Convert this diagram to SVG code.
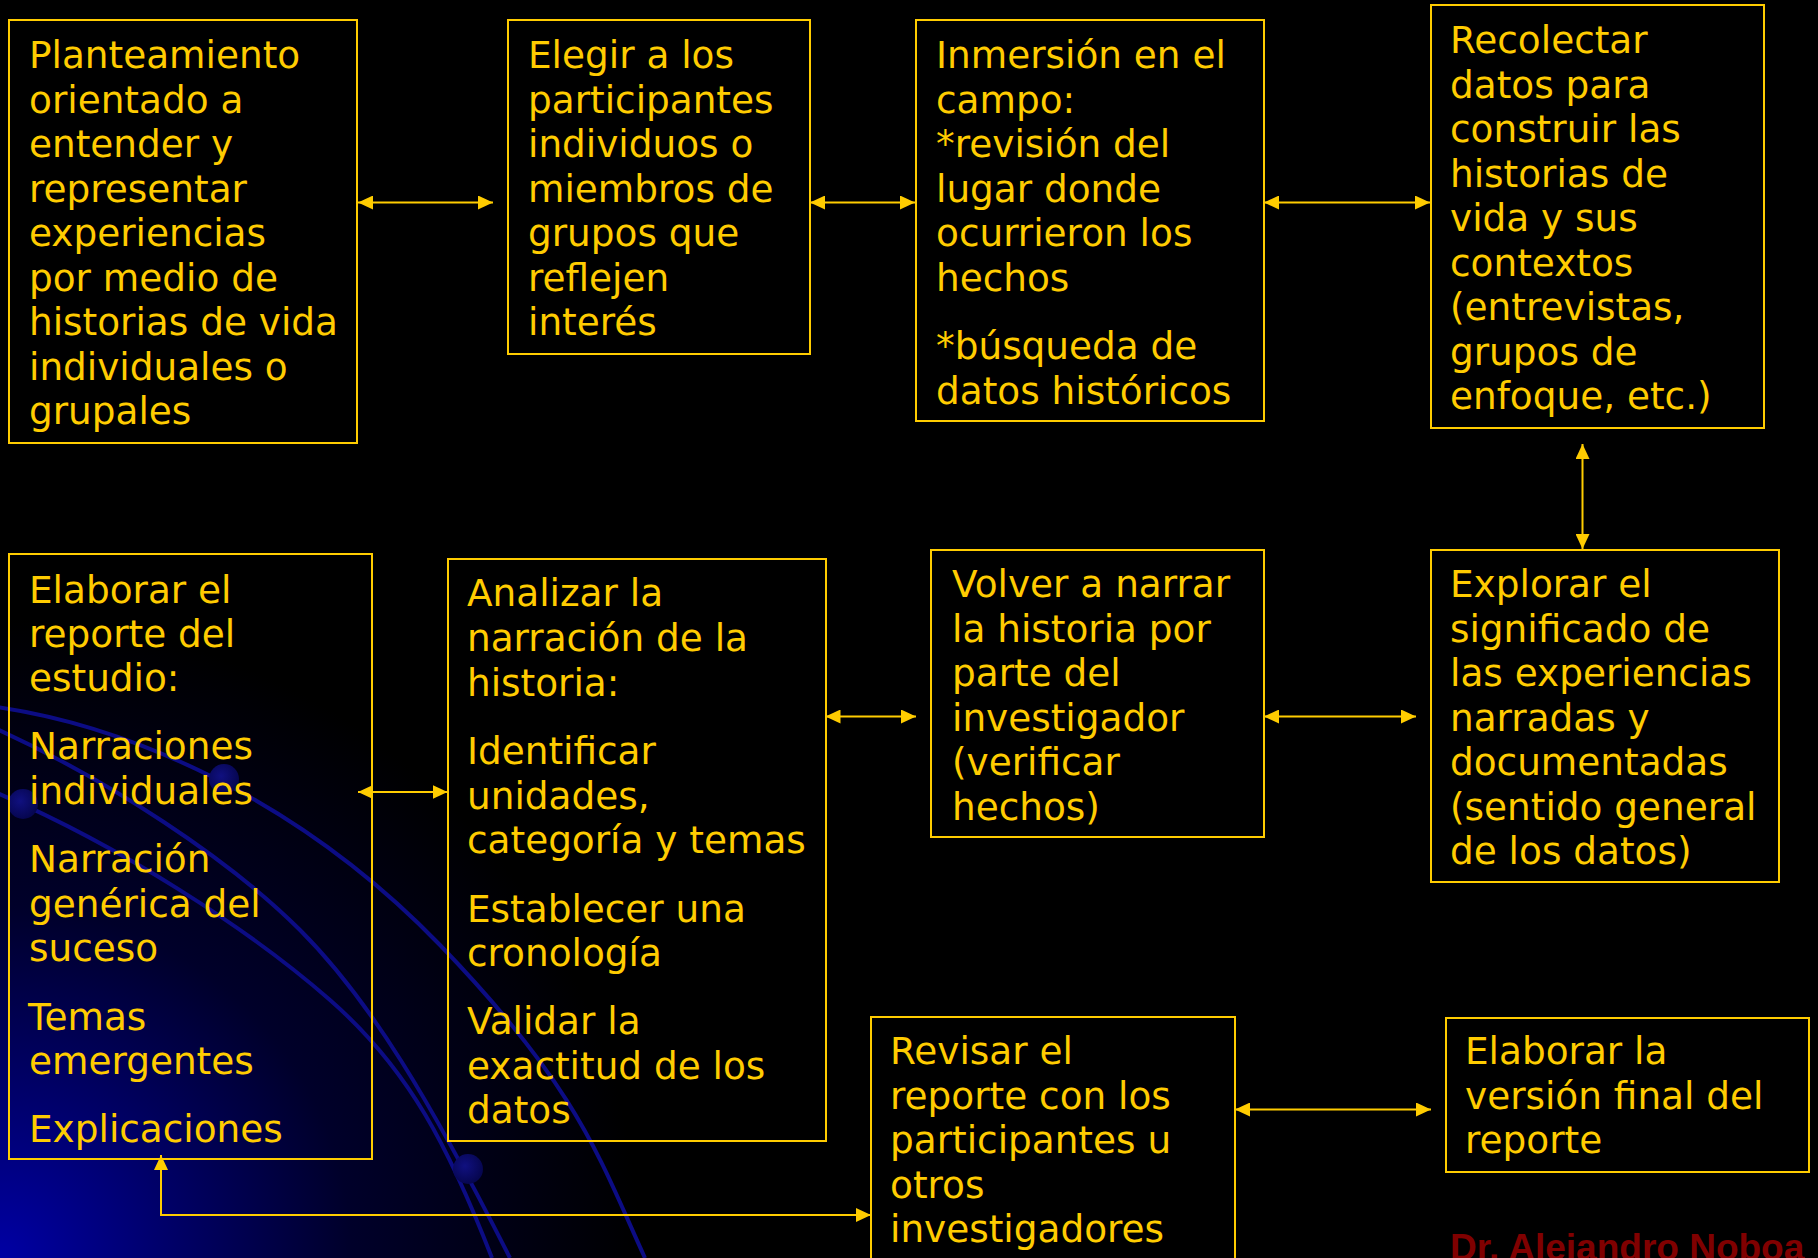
<svg xmlns="http://www.w3.org/2000/svg" width="1818" height="1258" viewBox="0 0 1818 1258">
<defs>
<radialGradient id="bg" cx="0" cy="1258" r="640" gradientUnits="userSpaceOnUse">
<stop offset="0" stop-color="#0000a4"/>
<stop offset="0.25" stop-color="#00006c"/>
<stop offset="0.55" stop-color="#00002a"/>
<stop offset="1" stop-color="#000000"/>
</radialGradient>
<radialGradient id="dot" cx="0.4" cy="0.4" r="0.6">
<stop offset="0" stop-color="#101080"/>
<stop offset="1" stop-color="#060650"/>
</radialGradient>
<marker id="ah" viewBox="0 0 15 14" refX="15" refY="7" markerWidth="15" markerHeight="14" markerUnits="userSpaceOnUse" orient="auto-start-reverse">
<path d="M0,0 L15,7 L0,14 z" fill="#FFCC00"/>
</marker>
<style>
.box{fill:none;stroke:#FFCC00;stroke-width:2}
.t{font-family:"DejaVu Sans","Noto Sans",sans-serif;font-size:37.4px;fill:#FFCC00}
.c{fill:none;stroke:#FFCC00;stroke-width:2;marker-start:url(#ah);marker-end:url(#ah)}
.arc{fill:none;stroke:#0c0c84;stroke-width:4}
</style>
</defs>
<rect x="0" y="0" width="1818" height="1258" fill="#000"/>
<rect x="0" y="0" width="1818" height="1258" fill="url(#bg)"/>
<g id="decor">
<path class="arc" d="M-10,706 C130,725 300,800 440,945 S600,1160 645,1258"/>
<path class="arc" d="M-10,726 C110,780 230,860 300,930 S430,1100 510,1258"/>
<path class="arc" d="M-10,790 C120,845 250,930 330,1000 S450,1150 492,1258"/>
<circle cx="224" cy="779" r="15" fill="url(#dot)"/>
<circle cx="23" cy="804" r="15" fill="url(#dot)"/>
<circle cx="468" cy="1169" r="15" fill="url(#dot)"/>
</g>
<g id="connectors">
<path class="c" d="M358,202.5 H493"/>
<path class="c" d="M810,202.5 H915"/>
<path class="c" d="M1264,202.5 H1430"/>
<path class="c" d="M1582.5,444 V549"/>
<path class="c" d="M825.5,716.5 H916"/>
<path class="c" d="M1264,716.5 H1416"/>
<path class="c" d="M358,792 H447.5"/>
<path class="c" d="M161,1155 V1215 H871"/>
<path class="c" d="M1235,1109.5 H1431"/>
</g>
<g id="n1">
<rect class="box" x="9" y="20" width="348" height="423"/>
<text class="t"><tspan x="29" y="68">Planteamiento</tspan><tspan x="29" y="112.5">orientado a</tspan><tspan x="29" y="157">entender y</tspan><tspan x="29" y="201.5">representar</tspan><tspan x="29" y="246">experiencias</tspan><tspan x="29" y="290.5">por medio de</tspan><tspan x="29" y="335">historias de vida</tspan><tspan x="29" y="379.5">individuales o</tspan><tspan x="29" y="424">grupales</tspan></text>
</g>
<g id="n2">
<rect class="box" x="508" y="20" width="302" height="334"/>
<text class="t"><tspan x="528" y="68">Elegir a los</tspan><tspan x="528" y="112.5">participantes</tspan><tspan x="528" y="157">individuos o</tspan><tspan x="528" y="201.5">miembros de</tspan><tspan x="528" y="246">grupos que</tspan><tspan x="528" y="290.5">reflejen</tspan><tspan x="528" y="335">interés</tspan></text>
</g>
<g id="n3">
<rect class="box" x="916" y="20" width="348" height="401"/>
<text class="t"><tspan x="936" y="68">Inmersión en el</tspan><tspan x="936" y="112.5">campo:</tspan><tspan x="936" y="157">*revisión del</tspan><tspan x="936" y="201.5">lugar donde</tspan><tspan x="936" y="246">ocurrieron los</tspan><tspan x="936" y="290.5">hechos</tspan><tspan x="936" y="359">*búsqueda de</tspan><tspan x="936" y="403.5">datos históricos</tspan></text>
</g>
<g id="n4">
<rect class="box" x="1431" y="5" width="333" height="423"/>
<text class="t"><tspan x="1450" y="53">Recolectar</tspan><tspan x="1450" y="97.5">datos para</tspan><tspan x="1450" y="142">construir las</tspan><tspan x="1450" y="186.5">historias de</tspan><tspan x="1450" y="231">vida y sus</tspan><tspan x="1450" y="275.5">contextos</tspan><tspan x="1450" y="320">(entrevistas,</tspan><tspan x="1450" y="364.5">grupos de</tspan><tspan x="1450" y="409">enfoque, etc.)</tspan></text>
</g>
<g id="n5">
<rect class="box" x="9" y="554" width="363" height="605"/>
<text class="t"><tspan x="29" y="602.5">Elaborar el</tspan><tspan x="29" y="647">reporte del</tspan><tspan x="29" y="691">estudio:</tspan><tspan x="29" y="759">Narraciones</tspan><tspan x="29" y="803.5">individuales</tspan><tspan x="29" y="872">Narración</tspan><tspan x="29" y="916.5">genérica del</tspan><tspan x="29" y="961">suceso</tspan><tspan x="28" y="1029.5">Temas</tspan><tspan x="29" y="1074">emergentes</tspan><tspan x="29" y="1142">Explicaciones</tspan></text>
</g>
<g id="n6">
<rect class="box" x="448" y="559" width="378" height="582"/>
<text class="t"><tspan x="467" y="606">Analizar la</tspan><tspan x="467" y="651">narración de la</tspan><tspan x="467" y="695.5">historia:</tspan><tspan x="467" y="764">Identificar</tspan><tspan x="467" y="808.5">unidades,</tspan><tspan x="467" y="853">categoría y temas</tspan><tspan x="467" y="921.5">Establecer una</tspan><tspan x="467" y="966">cronología</tspan><tspan x="467" y="1034">Validar la</tspan><tspan x="467" y="1078.5">exactitud de los</tspan><tspan x="467" y="1123">datos</tspan></text>
</g>
<g id="n7">
<rect class="box" x="931" y="550" width="333" height="287"/>
<text class="t"><tspan x="952" y="597">Volver a narrar</tspan><tspan x="952" y="641.5">la historia por</tspan><tspan x="952" y="686">parte del</tspan><tspan x="952" y="730.5">investigador</tspan><tspan x="952" y="775">(verificar</tspan><tspan x="952" y="819.5">hechos)</tspan></text>
</g>
<g id="n8">
<rect class="box" x="1431" y="550" width="348" height="332"/>
<text class="t"><tspan x="1450" y="597">Explorar el</tspan><tspan x="1450" y="641.5">significado de</tspan><tspan x="1450" y="686">las experiencias</tspan><tspan x="1450" y="730.5">narradas y</tspan><tspan x="1450" y="775">documentadas</tspan><tspan x="1450" y="819.5">(sentido general</tspan><tspan x="1450" y="864">de los datos)</tspan></text>
</g>
<g id="n9">
<rect class="box" x="871" y="1017" width="364" height="300"/>
<text class="t"><tspan x="890" y="1064">Revisar el</tspan><tspan x="890" y="1108.5">reporte con los</tspan><tspan x="890" y="1153">participantes u</tspan><tspan x="890" y="1197.5">otros</tspan><tspan x="890" y="1242">investigadores</tspan></text>
</g>
<g id="n10">
<rect class="box" x="1446" y="1018" width="363" height="154"/>
<text class="t"><tspan x="1465" y="1064">Elaborar la</tspan><tspan x="1465" y="1108.5">versión final del</tspan><tspan x="1465" y="1153">reporte</tspan></text>
</g>
<text x="1450" y="1260" font-family="'Liberation Sans',Arial,sans-serif" font-size="37" font-weight="bold" fill="#800000">Dr. Alejandro Noboa</text>
</svg>
